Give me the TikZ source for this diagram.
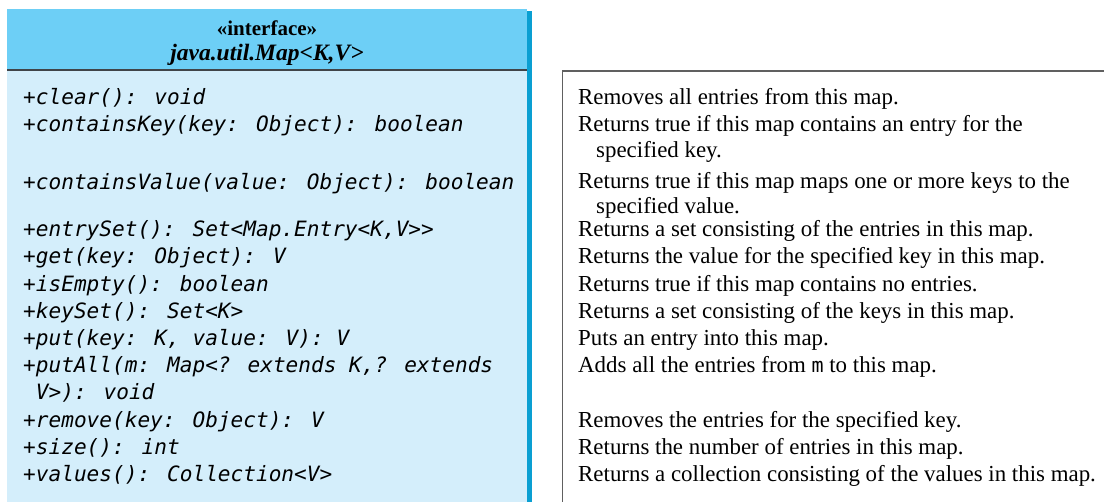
\documentclass[tikz,border=0pt]{standalone}
\usepackage{fontspec}
\setmainfont{Liberation Serif}
\newfontfamily\monof{DejaVu Sans Mono}
\definecolor{headc}{HTML}{6DCFF6}
\definecolor{bodyc}{HTML}{D4EEFB}
\definecolor{stripc}{HTML}{0A9FD2}
\definecolor{sepc}{HTML}{404448}
\definecolor{borderc}{HTML}{606060}
\begin{document}
\begin{tikzpicture}[x=1pt,y=-1pt,
  mono/.style={font=\monof\itshape\fontsize{21.1}{26}\selectfont, anchor=base west, inner sep=0pt},
  desc/.style={font=\fontsize{22.9}{26}\selectfont, anchor=base west, inner sep=0pt},
  head/.style={font=\bfseries\fontsize{21}{25}\selectfont, anchor=base, inner sep=0pt}]
\useasboundingbox (0,0) rectangle (1104,502);
% class box
\fill[stripc] (527,11) rectangle (531.5,502);
\fill[headc] (7,9) rectangle (527,70);
\fill[bodyc] (7,70) rectangle (527,502);
\draw[sepc, line width=1.8pt] (7,70) -- (527,70);
% description box
\draw[borderc, line width=1.6pt] (562.5,503) -- (562.5,71) -- (1105,71);
% header
\node[head] (h1) at (267,35.5) {«interface»};
\node[head, font=\bfseries\itshape\fontsize{23.5}{27}\selectfont] (h2) at (267,61) {java.util.Map<K,V>};
% methods
\node[mono] (m1) at (23,105) {+clear(): void};
\node[mono] (m2) at (23,131.7) {+containsKey(key: Object): boolean};
\node[mono] (m3) at (23,190) {+containsValue(value: Object): boolean};
\node[mono] (m4) at (23,236.7) {+entrySet(): Set<Map.Entry<K,V>{}>};
\node[mono] (m5) at (23,263.9) {+get(key: Object): V};
\node[mono] (m6) at (23,291.1) {+isEmpty(): boolean};
\node[mono] (m7) at (23,318.3) {+keySet(): Set<K>};
\node[mono] (m8) at (23,345.5) {+put(key: K, value: V): V};
\node[mono] (m9) at (23,372.7) {+putAll(m: Map<? extends K,? extends};
\node[mono] (m10) at (23,399.9) {\ V>): void};
\node[mono] (m11) at (23,427.1) {+remove(key: Object): V};
\node[mono] (m12) at (23,454.3) {+size(): int};
\node[mono] (m13) at (23,481.5) {+values(): Collection<V>};
% descriptions
\node[desc] (d1) at (578,105) {Removes all entries from this map.};
\node[desc] (d2) at (578,131.7) {Returns true if this map contains an entry for the};
\node[desc] (d2b) at (596,158) {specified key.};
\node[desc] (d3) at (578,189) {Returns true if this map maps one or more keys to the};
\node[desc] (d3b) at (596,213.5) {specified value.};
\node[desc] (d4) at (578,236.7) {Returns a set consisting of the entries in this map.};
\node[desc] (d5) at (578,263.9) {Returns the value for the specified key in this map.};
\node[desc] (d6) at (578,291.1) {Returns true if this map contains no entries.};
\node[desc] (d7) at (578,318.3) {Returns a set consisting of the keys in this map.};
\node[desc] (d8) at (578,345.5) {Puts an entry into this map.};
\node[desc] (d9) at (578,372.7) {Adds all the entries from {\monof\fontsize{20}{24}\selectfont m} to this map.};
\node[desc] (d11) at (578,427.1) {Removes the entries for the specified key.};
\node[desc] (d12) at (578,454.3) {Returns the number of entries in this map.};
\node[desc] (d13) at (578,481.5) {Returns a collection consisting of the values in this map.};
\end{tikzpicture}
\end{document}
